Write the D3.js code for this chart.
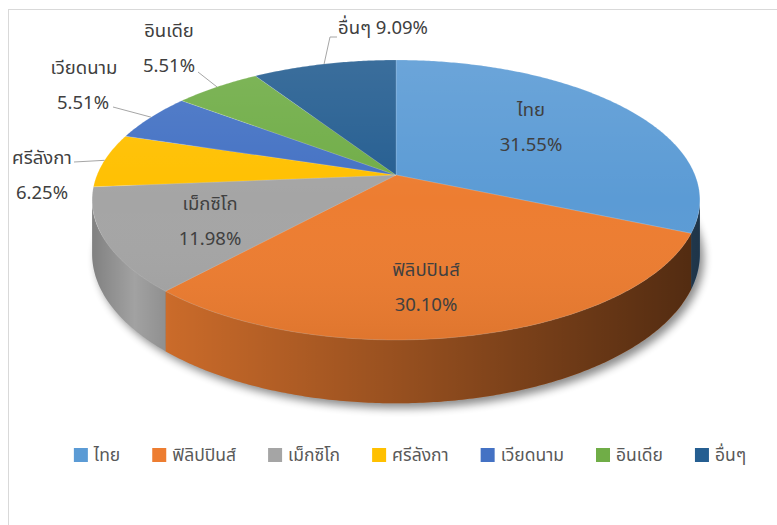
<!DOCTYPE html>
<html>
<head>
<meta charset="utf-8">
<script src="https://cdn.jsdelivr.net/npm/d3@7"></script>
<style>
  body { margin: 0; background: #fff; }
  text { font-family: "Noto Sans Thai", Tahoma, "Noto Sans", "DejaVu Sans", sans-serif; }
</style>
</head>
<body>
<div id="container"></div>
<script>
// data
const countries = ["ไทย", "ฟิลิปปินส์", "เม็กซิโก", "ศรีลังกา", "เวียดนาม", "อินเดีย", "อื่นๆ"];
const shares = [31.55, 30.10, 11.98, 6.25, 5.51, 5.51, 9.09];
const colors = ["#5B9BD5", "#ED7D31", "#A5A5A5", "#FFC000", "#4472C4", "#70AD47", "#255E91"];

const width = 777, height = 525;

// 3d pie projection settings (perspective squashed disk)
const cx = 396, cy = 175, A = 299, B = 135.5, k = 0.1786, depth = 52;

function proj(theta, r = 1, drop = 0) {
  const u = r * Math.sin(theta), v = -r * Math.cos(theta);
  const w = 1 - k * v;
  return [cx + A * u / w, cy + (B * v + drop) / w];
}

// visible part of the outer wall (front)
const thR = Math.acos(-k), thL = 2 * Math.PI - Math.acos(-k);

const svg = d3.select("#container").append("svg")
  .attr("width", width)
  .attr("height", height);

const defs = svg.append("defs");

// side shading
const sideGrad = defs.append("linearGradient")
  .attr("id", "sideShade")
  .attr("gradientUnits", "userSpaceOnUse")
  .attr("x1", 92).attr("x2", 700).attr("y1", 0).attr("y2", 0);
[[0, 0.22], [0.07, 0.02], [0.13, 0.15], [0.5, 0.36], [0.83, 0.56], [1, 0.66]].forEach(s => {
  sideGrad.append("stop").attr("offset", s[0]).attr("stop-color", "#000").attr("stop-opacity", s[1]);
});

// top face shading
const topGrad = defs.append("linearGradient")
  .attr("id", "topShade")
  .attr("gradientUnits", "userSpaceOnUse")
  .attr("x1", 0).attr("x2", 0).attr("y1", 60).attr("y2", 340);
topGrad.append("stop").attr("offset", 0).attr("stop-color", "#fff").attr("stop-opacity", 0.1);
topGrad.append("stop").attr("offset", 0.5).attr("stop-color", "#fff").attr("stop-opacity", 0);
topGrad.append("stop").attr("offset", 1).attr("stop-color", "#000").attr("stop-opacity", 0.06);

defs.append("filter").attr("id", "blur")
  .attr("x", "-20%").attr("y", "-20%").attr("width", "140%").attr("height", "140%")
  .append("feGaussianBlur").attr("stdDeviation", 4);

// frame
svg.append("line").attr("x1", 8).attr("x2", width).attr("y1", 9.5).attr("y2", 9.5)
  .attr("stroke", "#d9d9d9");
svg.append("line").attr("x1", 8.5).attr("x2", 8.5).attr("y1", 9).attr("y2", height)
  .attr("stroke", "#d9d9d9");

const pie = d3.pie().sort(null).value(d => d)(shares);

function arcPts(a, b, r, drop) {
  const n = Math.max(2, Math.ceil((b - a) / 0.01));
  return d3.range(n + 1).map(i => proj(a + (b - a) * i / n, r, drop));
}

function topPath(d) {
  const pts = [proj(0, 0)].concat(arcPts(d.startAngle, d.endAngle, 1, 0));
  return "M" + pts.join("L") + "Z";
}

function wallPath(d) {
  const a = Math.max(d.startAngle, thR), b = Math.min(d.endAngle, thL);
  if (b <= a) return null;
  const top = arcPts(a, b, 1, 0);
  const bot = arcPts(a, b, 1, depth).reverse();
  return "M" + top.concat(bot).join("L") + "Z";
}

// shadow under the pie
const shadowPts = arcPts(0, 2 * Math.PI, 1, depth);
svg.append("path")
  .attr("d", "M" + shadowPts.join("L") + "Z")
  .attr("transform", "translate(4,5)")
  .attr("fill", "#000")
  .attr("opacity", 0.45)
  .attr("filter", "url(#blur)");

const walls = pie.filter(d => wallPath(d));
svg.selectAll("path.wall")
  .data(walls)
  .join("path")
  .attr("class", "wall")
  .attr("d", wallPath)
  .attr("fill", d => colors[d.index]);
svg.selectAll("path.wallShade")
  .data(walls)
  .join("path")
  .attr("class", "wallShade")
  .attr("d", wallPath)
  .attr("fill", "url(#sideShade)");

svg.selectAll("path.slice")
  .data(pie)
  .join("path")
  .attr("class", "slice")
  .attr("d", topPath)
  .attr("fill", d => colors[d.index])
  .attr("stroke", "rgba(255,255,255,0.25)")
  .attr("stroke-width", 0.6);
svg.selectAll("path.sliceShade")
  .data(pie)
  .join("path")
  .attr("class", "sliceShade")
  .attr("d", topPath)
  .attr("fill", "url(#topShade)");

// data labels: name on top, percent below
const labelPos = [
  { x: 531, y: 110 },
  { x: 426, y: 270 },
  { x: 210, y: 204 },
  { x: 42, y: 158, lx: 74, ly: 162 },
  { x: 84, y: 68, lx: 113, ly: 107, pctX: 83, pctY: 103 },
  { x: 169, y: 31, lx: 198, ly: 72, pctY: 66 },
  { x: 383, y: 28, lx: 333, ly: 37, oneLine: true }
];

const labelFont = 18.5;
const labelColor = "#404040";

pie.forEach((d, i) => {
  const p = labelPos[i];
  const mid = (d.startAngle + d.endAngle) / 2;
  if (p.lx !== undefined) {
    const e = proj(mid, 1, 0);
    let pts;
    if (p.oneLine) pts = [[p.lx + 4, p.ly], [p.lx - 3, p.ly], e];
    else pts = [[p.lx, p.ly], e];
    svg.append("path")
      .attr("d", "M" + pts.join("L"))
      .attr("fill", "none")
      .attr("stroke", "#a6a6a6")
      .attr("stroke-width", 1);
  }
  if (p.oneLine) {
    svg.append("text")
      .attr("x", p.x).attr("y", p.y)
      .attr("text-anchor", "middle")
      .attr("dominant-baseline", "central")
      .attr("font-size", labelFont)
      .attr("fill", labelColor)
      .text(countries[i] + " " + shares[i].toFixed(2) + "%");
    return;
  }
  svg.append("text")
    .attr("x", p.x).attr("y", p.y)
    .attr("text-anchor", "middle")
    .attr("dominant-baseline", "central")
    .attr("font-size", labelFont)
    .attr("fill", labelColor)
    .text(countries[i]);
  svg.append("text")
    .attr("x", p.pctX !== undefined ? p.pctX : p.x)
    .attr("y", p.pctY !== undefined ? p.pctY : p.y + 35)
    .attr("text-anchor", "middle")
    .attr("dominant-baseline", "central")
    .attr("font-size", labelFont)
    .attr("fill", labelColor)
    .text(shares[i].toFixed(2) + "%");
});

// legend
const legendY = 455, legendCenter = 410, sq = 14, gapText = 6, gapItem = 32;
const legend = svg.append("g");
const items = legend.selectAll("g.item")
  .data(countries)
  .join("g")
  .attr("class", "item");
items.append("rect")
  .attr("width", sq).attr("height", sq)
  .attr("y", legendY - sq / 2)
  .attr("fill", (d, i) => colors[i]);
items.append("text")
  .attr("x", sq + gapText)
  .attr("y", legendY)
  .attr("dominant-baseline", "central")
  .attr("font-size", 17.5)
  .attr("fill", "#595959")
  .text(d => d);
let xs = [], acc = 0;
items.each(function () {
  xs.push(acc);
  acc += sq + gapText + d3.select(this).select("text").node().getComputedTextLength() + gapItem;
});
const total = acc - gapItem;
items.attr("transform", (d, i) => `translate(${legendCenter - total / 2 + xs[i]},0)`);
</script>
</body>
</html>
